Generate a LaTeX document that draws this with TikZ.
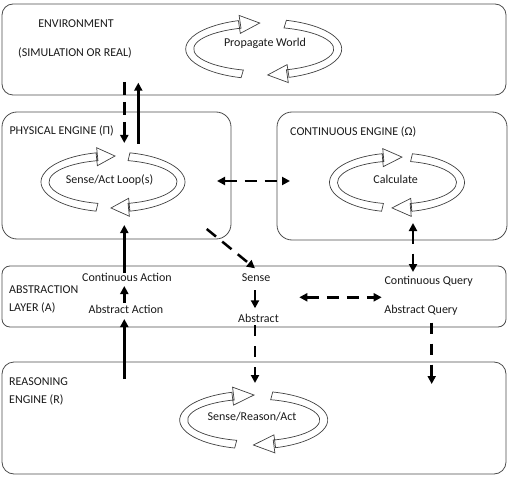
\documentclass[tikz,border=0pt]{standalone}
\usepackage{fontspec}
\setmainfont{Carlito}
\usetikzlibrary{arrows.meta,calc}
\newcommand\CycArrow[7]{%
 \begin{scope}[shift={(#1,#2)},yscale=-1]
  \pgfmathsetmacro\cyT{360-acos(-(#6)/(#3))}%
  \pgfmathsetmacro\cyB{acos(((#5)-(#7))/(#3))}%
  \pgfmathsetmacro\cyP{acos((#5)/(#3))}%
  \pgfmathsetmacro\cyAo{#3+4}\pgfmathsetmacro\cyBo{#4+4}%
  \pgfmathsetmacro\cyAi{#3-4}\pgfmathsetmacro\cyBi{#4-4}%
  \foreach \cyR in {0,180}{%
   \draw[looparrow,rotate=\cyR] ({\cyAo*cos(\cyT)},{\cyBo*sin(\cyT)})
     arc[start angle=\cyT,end angle=\cyB,x radius=\cyAo,y radius=\cyBo]
     -- ($({#3*cos(\cyB)},{#4*sin(\cyB)})!9pt!90:({#3*cos(\cyP)},{#4*sin(\cyP)})$)
     -- ({#3*cos(\cyP)},{#4*sin(\cyP)})
     -- ($({#3*cos(\cyB)},{#4*sin(\cyB)})!9pt!-90:({#3*cos(\cyP)},{#4*sin(\cyP)})$)
     -- ({\cyAi*cos(\cyB)},{\cyBi*sin(\cyB)})
     arc[start angle=\cyB,end angle=\cyT,x radius=\cyAi,y radius=\cyBi] -- cycle;
  }%
 \end{scope}}
\begin{document}
\begin{tikzpicture}[x=1pt,y=-1pt,
  panel/.style={draw=black!70,line width=0.8pt,inner sep=0pt,outer sep=0pt},
  lbl/.style={font=\fontsize{12}{14}\selectfont,inner sep=0pt,text=black!90},
  looparrow/.style={draw=black!75,line width=0.7pt,fill=white},
  solidarrow/.style={line width=2.5pt,-{Triangle[length=8pt,width=8pt]}},
  dasharrow/.style={solidarrow,dash pattern=on 12pt off 8pt},
  dashdouble/.style={line width=2.5pt,{Triangle[length=8pt,width=8pt]}-{Triangle[length=8pt,width=8pt]},dash pattern=on 12pt off 8pt}]
\useasboundingbox (0,0) rectangle (510,486);
% panels
\node[panel,rounded corners=11pt,minimum width=504pt,minimum height=91pt] (env) at (254,49.5) {};
\node[panel,rounded corners=15pt,minimum width=229pt,minimum height=127pt] (phys) at (116.5,175.5) {};
\node[panel,rounded corners=15pt,minimum width=230pt,minimum height=128pt] (cont) at (392,176) {};
\node[panel,rounded corners=8pt,minimum width=504pt,minimum height=61pt] (abs) at (254,296.5) {};
\node[panel,rounded corners=12pt,minimum width=504pt,minimum height=112pt] (reas) at (254,418) {};
% cycle arrows
\CycArrow{263.7}{49}{74}{26}{-4}{21.5}{20}
\CycArrow{113}{182}{68}{26}{2}{16}{18}
\CycArrow{397}{182.5}{63.5}{25.5}{5}{14.5}{19}
\CycArrow{253.7}{420}{70}{25}{0.3}{18}{21}
% labels
\node[lbl,anchor=base] (envt) at (76,28) {ENVIRONMENT};
\node[lbl,anchor=base] (simt) at (75,56.3) {(SIMULATION OR REAL)};
\node[lbl,anchor=base] (pw) at (265,47) {Propagate World};
\node[lbl,anchor=base west] (physt) at (9.3,135) {PHYSICAL ENGINE (Π)};
\node[lbl,anchor=base] (sal) at (109.5,183) {Sense/Act Loop(s)};
\node[lbl,anchor=base west] (contt) at (290,135.3) {CONTINUOUS ENGINE (Ω)};
\node[lbl,anchor=base] (calc) at (395.7,183) {Calculate};
\node[lbl,anchor=base west] (abst1) at (9,293.2) {ABSTRACTION};
\node[lbl,anchor=base west] (abst2) at (9,311.5) {LAYER (A)};
\node[lbl,anchor=base] (ca) at (127,281.8) {Continuous Action};
\node[lbl,anchor=base] (aa) at (126,313.2) {Abstract Action};
\node[lbl,anchor=base] (sense) at (256,281.8) {Sense};
\node[lbl,anchor=base] (abstract) at (258.5,322.2) {Abstract};
\node[lbl,anchor=base] (cq) at (428.7,284.5) {Continuous Query};
\node[lbl,anchor=base] (aq) at (421,313.2) {Abstract Query};
\node[lbl,anchor=base west] (reat1) at (9,385.8) {REASONING};
\node[lbl,anchor=base west] (reat2) at (9,403) {ENGINE (R)};
\node[lbl,anchor=base] (sra) at (252,420.5) {Sense/Reason/Act};
% connector end points
\coordinate (envDown) at (124.3,82);
\coordinate (physIn) at (124.3,143);
\coordinate (physOut) at (138.3,144);
\coordinate (envIn) at (138.3,82.7);
\coordinate (physSide) at (217,181);
\coordinate (contSide) at (290,181);
\coordinate (physCorner) at (206.7,229);
\coordinate (senseTop) at (255,268.3);
\coordinate (calcBot) at (413,223);
\coordinate (cqTop) at (413,272);
\coordinate (caTop) at (124.3,273);
\coordinate (physBot) at (124.3,225);
\coordinate (aaTop) at (124.3,303);
\coordinate (caBot) at (124.3,286);
\coordinate (reasTop) at (124.3,379);
\coordinate (aaBot) at (124.3,319);
\coordinate (senseBot) at (255,290);
\coordinate (absTop) at (255,308.3);
\coordinate (absBot) at (255,325);
\coordinate (reasIn1) at (255,383);
\coordinate (aqBot) at (431.7,322.7);
\coordinate (reasIn2) at (431.7,384);
\coordinate (absL) at (299.3,297.3);
\coordinate (absR) at (381.7,297.3);
% connectors
\draw[dasharrow,dash pattern=on 13pt off 7pt] (envDown) -- (physIn);
\draw[solidarrow] (physOut) -- (envIn);
\draw[dashdouble] (physSide) -- (contSide);
\draw[dasharrow] (physCorner) -- (senseTop);
\draw[dashdouble,dash pattern=on 13pt off 10pt] (calcBot) -- (cqTop);
\draw[solidarrow] (caTop) -- (physBot);
\draw[solidarrow] (aaTop) -- (caBot);
\draw[solidarrow] (reasTop) -- (aaBot);
\draw[dasharrow] (senseBot) -- (absTop);
\draw[dasharrow,dash pattern=on 11pt off 10pt] (absBot) -- (reasIn1);
\draw[dasharrow,dash pattern=on 11pt off 10pt] (aqBot) -- (reasIn2);
\draw[dashdouble] (absL) -- (absR);
\end{tikzpicture}
\end{document}
